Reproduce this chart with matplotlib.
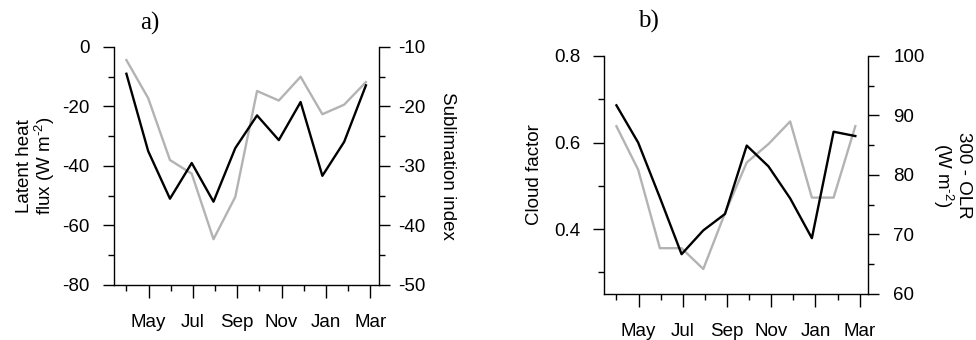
import matplotlib.pyplot as plt
import numpy as np

plt.rcParams['font.family'] = ['Liberation Sans', 'DejaVu Sans']
plt.rcParams['axes.unicode_minus'] = False
plt.rcParams['mathtext.fontset'] = 'custom'
plt.rcParams['mathtext.rm'] = 'Liberation Sans'

# months Apr .. Mar
months = ['Apr', 'May', 'Jun', 'Jul', 'Aug', 'Sep', 'Oct', 'Nov', 'Dec', 'Jan', 'Feb', 'Mar']

# panel a
latent_heat = [-9, -35, -51, -39, -52, -34, -23, -31.3, -18.5, -43.3, -31.9, -12.9]
sublimation = [-12.2, -18.6, -29.0, -31.3, -42.3, -35.2, -17.4, -19.0, -15.0, -21.3, -19.7, -15.9]

# panel b
cloud_factor = [0.686, 0.600, 0.473, 0.342, 0.397, 0.435, 0.593, 0.545, 0.471, 0.379, 0.625, 0.615]
olr = [88.2, 80.9, 67.7, 67.7, 64.2, 73.6, 82.1, 85.2, 89.0, 76.2, 76.2, 88.2]

grey = '#b3b3b3'
fs = 13.5

fig = plt.figure(figsize=(9.76, 3.40), dpi=100)

x = np.arange(len(months))
tick_x = x * 1.018


def setup(ax, ax2, lpad, rpad):
    for a in (ax, ax2):
        a.spines['top'].set_visible(False)
        for s in a.spines.values():
            s.set_linewidth(1.0)
    ax.spines['right'].set_visible(False)
    ax2.spines['left'].set_visible(False)
    ax2.spines['bottom'].set_visible(False)
    ax.set_xlim(-0.57, 11.6)
    ax.set_xticks(tick_x[1::2])
    ax.set_xticks(tick_x[0::2], minor=True)
    ax.set_xticklabels(months[1::2])
    ax.tick_params(axis='x', which='major', length=9, width=1.0, pad=12, labelsize=fs)
    ax.tick_params(axis='x', which='minor', length=4.5, width=1.0)
    ax.tick_params(axis='y', which='major', length=8, width=1.0, labelsize=fs, pad=lpad)
    ax.tick_params(axis='y', which='minor', length=4.5, width=1.0)
    ax2.tick_params(axis='y', which='major', length=8, width=1.0, labelsize=fs, pad=rpad)
    ax2.tick_params(axis='y', which='minor', length=4.5, width=1.0)


# ---- panel a ----
ax1 = fig.add_axes([0.1168, 0.1618, 0.2715, 0.70])
ax1b = ax1.twinx()
setup(ax1, ax1b, 9.5, 6)
ax1b.plot(x, sublimation, color=grey, lw=1.7)
ax1.plot(x, latent_heat, color='black', lw=1.7)
ax1.set_zorder(ax1b.get_zorder() + 1)
ax1.patch.set_visible(False)
ax1.set_ylim(-80, 0)
ax1.set_yticks([-80, -60, -40, -20, 0])
ax1.set_yticks([-70, -50, -30, -10], minor=True)
ax1b.set_ylim(-50, -10)
ax1b.set_yticks([-50, -40, -30, -20, -10])
ax1b.set_yticks([-45, -35, -25, -15], minor=True)
ax1.set_ylabel('Latent heat\nflux (W m$^{\\text{-2}}$)', fontsize=fs, labelpad=4, linespacing=0.95)
ax1b.set_ylabel('Sublimation index', fontsize=fs, rotation=270, labelpad=22)
ax1.set_title('a)', family='Liberation Serif', fontsize=18, x=0.135, y=1.0, pad=12.5)

# ---- panel b ----
ax2 = fig.add_axes([0.6189, 0.1353, 0.2708, 0.70])
ax2b = ax2.twinx()
setup(ax2, ax2b, 9, 10)
ax2b.plot(x, olr, color=grey, lw=1.7)
ax2.plot(x, cloud_factor, color='black', lw=1.7)
ax2.set_zorder(ax2b.get_zorder() + 1)
ax2.patch.set_visible(False)
ax2.set_ylim(0.25, 0.8)
ax2.set_yticks([0.4, 0.6, 0.8])
ax2.set_yticks([0.3, 0.5, 0.7], minor=True)
ax2.yaxis.set_major_formatter(plt.FormatStrFormatter('%.1f'))
ax2b.set_ylim(60, 100)
ax2b.set_yticks([60, 70, 80, 90, 100])
ax2b.set_yticks([65, 75, 85, 95], minor=True)
ax2.set_ylabel('Cloud factor', fontsize=fs, labelpad=8)
ax2b.set_ylabel('300 - OLR\n(W m$^{\\text{-2}}$)', fontsize=fs, rotation=270, labelpad=34, linespacing=0.95)
ax2.set_title('b)', family='Liberation Serif', fontsize=18, x=0.17, y=1.0, pad=20.5)

fig.savefig('out.png', dpi=100)
